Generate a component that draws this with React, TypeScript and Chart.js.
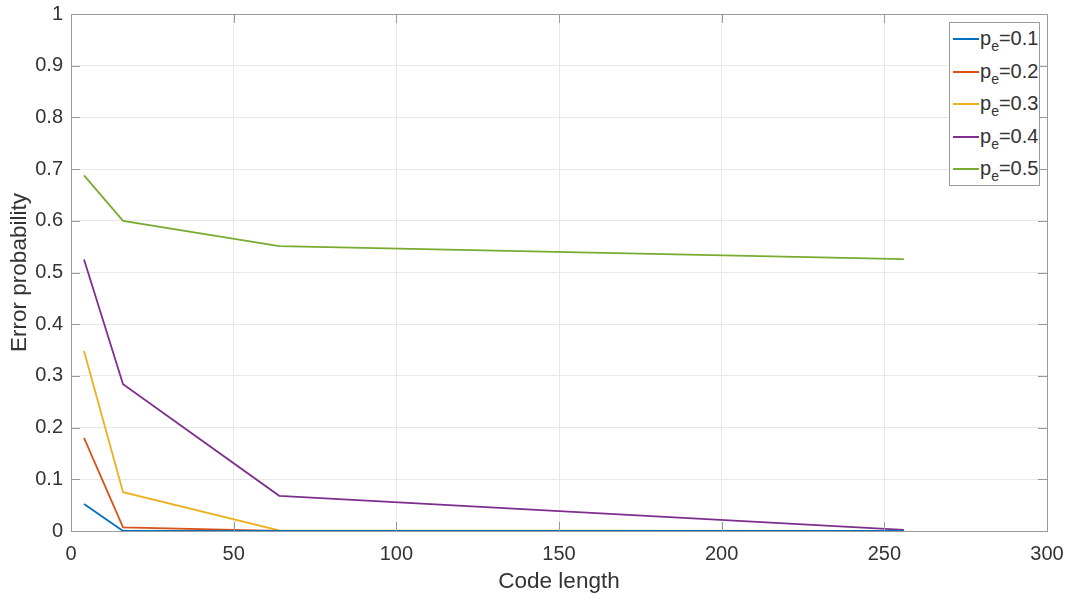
import React, { useEffect, useRef } from "react";
import { Chart, registerables } from "chart.js";

Chart.register(...registerables);

const codeLengths = [4, 16, 64, 256];
const pe01 = [0.052, 0.0, 0.0, 0.0];
const pe02 = [0.18, 0.007, 0.0, 0.0];
const pe03 = [0.348, 0.075, 0.001, 0.0];
const pe04 = [0.525, 0.284, 0.068, 0.002];
const pe05 = [0.688, 0.6, 0.551, 0.526];
const seriesLabels = ["0.1", "0.2", "0.3", "0.4", "0.5"];
const seriesColors = ["#0072BD", "#D95319", "#EDB120", "#7E2F8E", "#77AC30"];
const xTicks = [0, 50, 100, 150, 200, 250, 300];
const yTicks = [0, 0.1, 0.2, 0.3, 0.4, 0.5, 0.6, 0.7, 0.8, 0.9, 1];

const FONT = "'Liberation Sans', Arial, sans-serif";
const AXIS_COLOR = "#9a9a9a";
const TEXT_COLOR = "#333333";

const boxPlugin = {
  id: "boxPlugin",
  afterDraw(chart: any) {
    const { ctx, chartArea } = chart;
    const { left, right, top, bottom } = chartArea;
    ctx.save();
    ctx.strokeStyle = AXIS_COLOR;
    ctx.lineWidth = 1;
    ctx.strokeRect(Math.round(left) + 0.5, Math.round(top) + 0.5, Math.round(right - left), Math.round(bottom - top));
    const xs = chart.scales.x;
    const ys = chart.scales.y;
    ctx.beginPath();
    xTicks.forEach((v) => {
      const px = Math.round(xs.getPixelForValue(v)) + 0.5;
      ctx.moveTo(px, bottom);
      ctx.lineTo(px, bottom - 9);
      ctx.moveTo(px, top);
      ctx.lineTo(px, top + 9);
    });
    yTicks.forEach((v) => {
      const py = Math.round(ys.getPixelForValue(v)) + 0.5;
      ctx.moveTo(left, py);
      ctx.lineTo(left + 9, py);
      ctx.moveTo(right, py);
      ctx.lineTo(right - 9, py);
    });
    ctx.stroke();
    ctx.restore();
  },
};

export default function App() {
  const canvasRef = useRef<HTMLCanvasElement | null>(null);

  useEffect(() => {
    document.body.style.margin = "0";
    const all = [pe01, pe02, pe03, pe04, pe05];
    const chart = new Chart(canvasRef.current as HTMLCanvasElement, {
      type: "line",
      data: {
        datasets: all.map((vals, i) => ({
          label: "pe=" + seriesLabels[i],
          data: codeLengths.map((x, j) => ({ x, y: vals[j] })),
          borderColor: seriesColors[i],
          backgroundColor: seriesColors[i],
          borderWidth: 1.8,
          pointRadius: 0,
          tension: 0,
          fill: false,
        })),
      },
      options: {
        animation: false,
        responsive: false,
        maintainAspectRatio: false,
        layout: { padding: { top: 14, right: 20, left: 0, bottom: 0 } },
        plugins: { legend: { display: false }, tooltip: { enabled: false } },
        scales: {
          x: {
            type: "linear",
            min: 0,
            max: 300,
            afterBuildTicks(scale: any) {
              scale.ticks = xTicks.map((v) => ({ value: v }));
            },
            afterFit(scale: any) {
              scale.height = 64;
              scale.paddingLeft = 0;
              scale.paddingRight = 0;
            },
            grid: { color: "#e8e8e8", tickLength: 0, drawTicks: false },
            border: { display: false },
            ticks: {
              padding: 11,
              color: TEXT_COLOR,
              font: { family: FONT, size: 20 },
              maxRotation: 0,
            },
            title: {
              display: true,
              text: "Code length",
              color: TEXT_COLOR,
              font: { family: FONT, size: 22.5 },
              padding: { top: 0, bottom: 0 },
            },
          },
          y: {
            type: "linear",
            min: 0,
            max: 1,
            afterBuildTicks(scale: any) {
              scale.ticks = yTicks.map((v) => ({ value: v }));
            },
            afterFit(scale: any) {
              scale.width = 71;
              scale.paddingTop = 0;
              scale.paddingBottom = 0;
            },
            grid: { color: "#e8e8e8", tickLength: 0, drawTicks: false },
            border: { display: false },
            ticks: {
              padding: 8,
              color: TEXT_COLOR,
              font: { family: FONT, size: 20 },
              callback: (v: any) => String(Number(v)),
            },
            title: {
              display: true,
              text: "Error probability",
              color: TEXT_COLOR,
              font: { family: FONT, size: 22.5 },
              padding: { top: 6, bottom: 0 },
            },
          },
        },
      },
      plugins: [boxPlugin],
    } as any);
    return () => chart.destroy();
  }, []);

  return (
    <div style={{ position: "relative", width: 1067, height: 595, background: "#fff" }}>
      <canvas ref={canvasRef} width={1067} height={595} style={{ display: "block" }} />
      <div
        style={{
          position: "absolute",
          left: 949,
          top: 22,
          width: 91,
          height: 164,
          border: "1px solid #9a9a9a",
          background: "#fff",
          fontFamily: FONT,
          fontSize: 20,
          color: TEXT_COLOR,
          boxSizing: "border-box",
        }}
      >
        {seriesLabels.map((l, i) => (
          <div key={l} style={{ position: "relative", height: 32.5, whiteSpace: "nowrap" }}>
            <span
              style={{
                position: "absolute",
                left: 3,
                top: 15,
                width: 26,
                height: 2,
                background: seriesColors[i],
              }}
            />
            <span style={{ position: "absolute", left: 30, top: 4, lineHeight: "22px" }}>
              p
              <span style={{ fontSize: 14, position: "relative", top: 6 }}>e</span>
              ={l}
            </span>
          </div>
        ))}
      </div>
    </div>
  );
}
